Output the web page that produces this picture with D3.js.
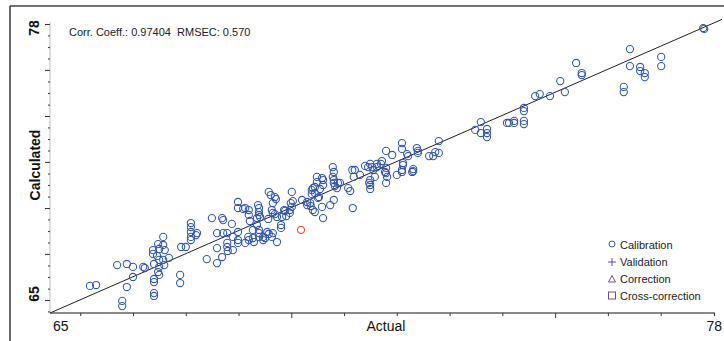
<!DOCTYPE html>
<html><head><meta charset="utf-8">
<script src="https://cdn.jsdelivr.net/npm/d3@7"></script>
<style>
html,body{margin:0;padding:0;background:#fff;}
svg{display:block;font-family:"Liberation Sans",Arial,sans-serif;}
</style></head>
<body><svg id="c" width="724" height="341"></svg>
<script>
// Calibration samples: actual vs calculated
const calActual = [65.78,65.90,66.31,66.50,66.62,66.50,66.62,66.41,66.41,66.82,66.85,67.01,67.01,67.03,67.03,67.03,67.03,67.03,67.11,67.13,67.09,67.13,67.13,67.11,67.13,67.21,67.21,67.24,67.21,67.23,67.32,67.54,67.54,67.56,67.65,67.75,67.75,67.75,67.75,67.75,67.87,67.85,
68.06,68.16,68.26,68.26,68.26,68.36,68.38,68.36,68.38,68.46,68.46,68.46,68.47,68.55,68.57,68.57,68.67,68.67,68.67,68.67,68.67,68.77,68.81,68.81,68.88,68.88,68.90,68.87,68.88,68.96,68.96,68.98,69.04,69.04,69.06,69.08,69.08,69.08,69.10,69.08,69.08,69.08,69.16,69.16,69.20,69.24,69.26,69.27,69.27,69.31,69.39,69.41,69.35,69.33,69.35,69.39,69.43,69.35,69.33,69.43,69.51,69.51,69.53,69.57,69.61,69.59,69.72,69.70,69.74,69.68,69.68,69.72,
69.92,70.02,70.02,70.08,70.09,70.11,70.11,70.13,70.17,70.13,70.17,70.21,70.21,70.31,70.33,70.33,70.17,70.27,70.25,70.23,70.31,70.33,70.47,70.54,70.52,70.54,70.52,70.54,70.54,70.56,70.62,70.60,70.66,70.82,70.86,70.91,70.90,70.95,71.05,70.93,
71.15,71.21,71.25,71.29,71.31,71.34,71.25,71.25,71.25,71.23,71.38,71.38,71.46,71.48,71.56,71.56,71.58,71.56,71.56,71.68,71.77,71.87,71.87,71.97,71.99,71.89,71.89,71.87,71.87,72.07,72.09,72.09,72.16,72.18,72.18,72.40,72.48,72.52,72.59,72.59,71.54,
73.30,73.41,73.41,73.53,73.53,73.53,73.92,73.96,74.06,74.06,74.25,74.25,74.25,74.25,74.47,74.56,74.76,74.96,75.05,75.27,75.38,75.38,76.20,76.20,76.32,76.32,76.52,76.52,76.61,76.61,76.93,76.93,77.75,77.77];
const calCalculated = [66.21,66.25,67.14,67.19,67.06,66.16,66.61,65.54,65.31,67.06,67.01,67.81,67.64,67.19,66.52,66.38,65.89,65.76,68.08,67.86,67.55,67.37,67.06,66.83,66.70,68.40,68.04,67.81,67.37,67.14,67.46,66.70,66.34,67.95,67.95,69.02,68.84,68.62,68.40,68.26,68.57,68.48,
67.41,69.24,68.57,67.90,67.23,69.24,69.15,67.50,68.57,68.57,68.13,67.95,67.77,68.98,68.40,67.81,69.96,69.69,68.62,68.26,68.13,69.65,69.69,68.13,69.60,69.38,69.11,68.40,68.26,68.71,68.35,68.17,69.24,68.93,69.82,69.69,69.51,69.38,69.29,68.71,68.57,68.40,68.40,68.26,68.35,68.62,69.20,68.53,70.41,70.27,70.18,70.09,69.91,69.60,69.47,69.42,69.29,68.57,68.40,68.17,68.93,68.80,69.29,69.60,69.33,69.56,70.41,69.91,70.00,69.60,69.47,69.74,
70.05,69.96,69.82,69.91,69.78,70.32,70.49,70.58,70.36,69.60,69.51,71.08,70.85,71.03,70.94,70.72,70.63,70.54,70.18,70.14,69.74,69.24,69.82,70.05,71.52,71.30,71.08,70.94,70.81,70.67,70.81,70.58,70.81,70.58,70.45,69.69,71.39,71.39,71.17,71.08,
71.57,71.52,71.66,71.52,71.39,71.08,70.94,70.72,70.54,70.81,71.66,71.52,71.66,71.79,71.48,71.25,71.08,70.81,72.24,72.06,71.17,72.59,72.33,72.10,72.01,71.70,71.61,71.39,71.30,71.30,71.43,71.34,72.37,72.24,72.15,72.01,72.01,72.19,72.15,72.68,71.30,
73.18,73.53,73.04,73.22,73.04,72.86,73.49,73.49,73.58,73.49,74.16,74.02,73.58,73.44,74.69,74.78,74.69,75.36,74.87,76.17,75.72,75.63,75.10,74.87,76.79,76.03,75.99,75.81,75.72,75.54,76.44,76.03,77.73,77.69];
// Highlighted (excluded) sample
const outActual = [69.90];
const outCalculated = [68.71];

const axisMin = 65, axisMax = 78;
const axisLabels = ["65", "78"];
const xMajorTicks = [69.71, 74.86];
const xMinorTicks = [65.59, 66.62, 67.65, 68.68, 70.74, 71.77, 72.80, 73.83, 75.89, 76.92, 77.96];
const yMajorTicks = [65.58, 67.64, 69.69, 71.75, 73.80, 75.86, 77.91];
const yMinorTicks = [65.07, 66.09, 66.61, 67.12, 68.15, 68.66, 69.18, 70.20, 70.72, 71.23, 72.26, 72.77, 73.29, 74.31, 74.83, 75.34, 76.37, 76.88, 77.40];
const statsText = "Corr. Coeff.: 0.97404  RMSEC: 0.570";
const legendNames = ["Calibration", "Validation", "Correction", "Cross-correction"];

const svg = d3.select("#c");
const x = d3.scaleLinear().domain([axisMin, axisMax]).range([50, 716]);
const y = d3.scaleLinear().domain([axisMin, axisMax]).range([313, 22]);

// frame
svg.append("line").attr("x1",10).attr("y1",6).attr("x2",724).attr("y2",6).attr("stroke","#444").attr("stroke-width",1.6);
svg.append("line").attr("x1",10).attr("y1",6).attr("x2",10).attr("y2",341).attr("stroke","#444").attr("stroke-width",1.6);

// x axis
const gx = svg.append("g").attr("transform","translate(0,313)");
gx.call(d3.axisBottom(x).tickValues(xMinorTicks).tickSize(3).tickFormat(""));
const gx2 = svg.append("g").attr("transform","translate(0,313)");
gx2.call(d3.axisBottom(x).tickValues(xMajorTicks).tickSize(5).tickFormat(""));
gx.select(".domain").attr("stroke","#8a8a8a").attr("stroke-width",2).attr("d","M50,0H715");
gx2.select(".domain").remove();
svg.selectAll("g .tick line").attr("stroke","#333");

// y axis
const gy = svg.append("g").attr("transform","translate(50,0)");
gy.call(d3.axisLeft(y).tickValues(yMinorTicks).tickSize(2).tickFormat(""));
gy.select(".domain").attr("stroke","#aaa").attr("stroke-width",0.8).attr("d","M0,313V22");
const gy2 = svg.append("g").attr("transform","translate(50,0)");
gy2.call(d3.axisLeft(y).tickValues(yMajorTicks).tickSize(5).tickFormat(""));
gy2.select(".domain").remove();
svg.selectAll("g .tick line").attr("stroke","#333");

// axis labels
svg.append("text").attr("x",53).attr("y",331).attr("font-size",14).attr("fill","#111").text(axisLabels[0]);
svg.append("text").attr("x",722).attr("y",331).attr("text-anchor","end").attr("font-size",14).attr("fill","#111").text(axisLabels[1]);
svg.append("text").attr("x",386).attr("y",331).attr("text-anchor","middle").attr("font-size",14).attr("fill","#111").text("Actual");
svg.append("text").attr("transform","translate(39,294) rotate(-90)").attr("text-anchor","middle").attr("font-size",14).attr("font-weight","bold").attr("fill","#111").text(axisLabels[0]);
svg.append("text").attr("transform","translate(39,28) rotate(-90)").attr("text-anchor","middle").attr("font-size",14).attr("font-weight","bold").attr("fill","#111").text(axisLabels[1]);
svg.append("text").attr("transform","translate(40,165) rotate(-90)").attr("text-anchor","middle").attr("font-size",14).attr("font-weight","bold").attr("fill","#111").text("Calculated");

// stats
svg.append("text").attr("x",69).attr("y",36).attr("font-size",11).attr("fill","#222").attr("xml:space","preserve").style("white-space","pre").text(statsText);

// identity line
svg.append("line").attr("x1",x(axisMin)).attr("y1",y(axisMin)).attr("x2",x(axisMax)+6).attr("y2",y(axisMax+6*13/666))
  .attr("stroke","#222").attr("stroke-width",1);

// points
const cal = calActual.map((a,i)=>({a, c:calCalculated[i]}));
svg.append("g").selectAll("circle").data(cal).join("circle")
  .attr("cx",d=>x(d.a)).attr("cy",d=>y(d.c)).attr("r",3.6)
  .attr("fill","none").attr("stroke","#2f55b5").attr("stroke-width",1.05);
const out = outActual.map((a,i)=>({a, c:outCalculated[i]}));
svg.append("g").selectAll("circle").data(out).join("circle")
  .attr("cx",d=>x(d.a)).attr("cy",d=>y(d.c)).attr("r",3.6)
  .attr("fill","none").attr("stroke","#e8322b").attr("stroke-width",1);

// legend
const lg = svg.append("g");
const rows = [245, 262, 279, 296];
legendNames.forEach((n,i)=>{
  lg.append("text").attr("x",620).attr("y",rows[i]+4).attr("font-size",11).attr("fill","#222").text(n);
});
lg.append("circle").attr("cx",612).attr("cy",rows[0]-1).attr("r",3).attr("fill","none").attr("stroke","#2f55b5").attr("stroke-width",1);
lg.append("path").attr("d",`M608,${rows[1]}H616M612,${rows[1]-4}V${rows[1]+4}`).attr("stroke","#6b4a92").attr("stroke-width",1);
lg.append("path").attr("d",`M608.5,${rows[2]+3}L612,${rows[2]-3.5}L615.5,${rows[2]+3}Z`).attr("fill","none").attr("stroke","#6b4a92").attr("stroke-width",1);
lg.append("rect").attr("x",608.5).attr("y",rows[3]-4).attr("width",7).attr("height",7).attr("fill","none").attr("stroke","#6b4a92").attr("stroke-width",1);
</script></body></html>
